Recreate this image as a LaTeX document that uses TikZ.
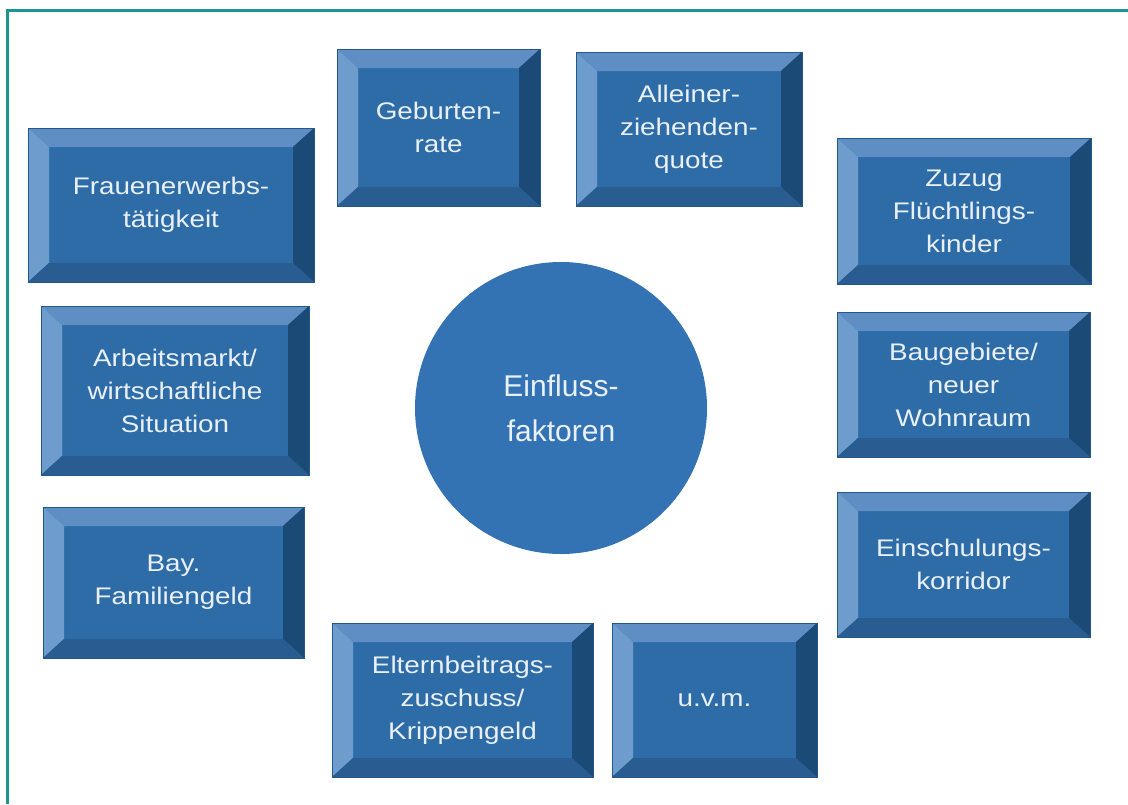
\documentclass[tikz,border=0pt]{standalone}
\usepackage{fontspec}
\usepackage{xcolor}
\newfontfamily\boxfont{Liberation Sans}[FakeStretch=1.16]
\newfontfamily\circfont{Liberation Sans}
\definecolor{faceblue}{HTML}{2E6CA8}
\definecolor{topblue}{HTML}{5E8EC4}
\definecolor{leftblue}{HTML}{6E9CCC}
\definecolor{rightblue}{HTML}{1B4A77}
\definecolor{bottomblue}{HTML}{295D92}
\definecolor{edgeblue}{HTML}{24578A}
\definecolor{circblue}{HTML}{3373B4}
\definecolor{lighttext}{HTML}{EAF0F7}
\definecolor{frameteal}{HTML}{1C9494}
\tikzset{
  bevelbox/.style={rectangle,fill=faceblue,draw=edgeblue,line width=0.8pt,
    text=lighttext,align=center,inner sep=0pt,
    font=\boxfont\fontsize{24}{33}\selectfont,
    path picture={
      \fill[topblue] (path picture bounding box.north west) -- (path picture bounding box.north east)
        -- ([xshift=-21pt,yshift=-19pt]path picture bounding box.north east)
        -- ([xshift=21pt,yshift=-19pt]path picture bounding box.north west) -- cycle;
      \fill[leftblue] (path picture bounding box.north west) -- (path picture bounding box.south west)
        -- ([xshift=21pt,yshift=19pt]path picture bounding box.south west)
        -- ([xshift=21pt,yshift=-19pt]path picture bounding box.north west) -- cycle;
      \fill[rightblue] (path picture bounding box.north east) -- (path picture bounding box.south east)
        -- ([xshift=-21pt,yshift=19pt]path picture bounding box.south east)
        -- ([xshift=-21pt,yshift=-19pt]path picture bounding box.north east) -- cycle;
      \fill[bottomblue] (path picture bounding box.south west) -- (path picture bounding box.south east)
        -- ([xshift=-21pt,yshift=19pt]path picture bounding box.south east)
        -- ([xshift=21pt,yshift=19pt]path picture bounding box.south west) -- cycle;
    }},
  hubcircle/.style={circle,fill=circblue,minimum size=292pt,inner sep=0pt,
    text=lighttext,align=center,font=\circfont\fontsize{30}{45}\selectfont},
  frame/.style={frameteal,line width=3pt}
}
\begin{document}
\begin{tikzpicture}[x=1pt,y=-1pt]
\useasboundingbox (0,0) rectangle (1128,804);
\coordinate (frameTR) at (1128,10);
\coordinate (frameTL) at (7,10);
\coordinate (frameBL) at (7,804);
\draw[frame] (frameTR) -- (frameTL) -- (frameBL);
\node[hubcircle] (hub) at (561,408) {Einfluss-\\faktoren};
  \foreach \nm/\cx/\cy/\bw/\bh/\txt in {
    frauen/171/205/286/154/{Frauenerwerbs-\\tätigkeit},
    geburten/438.5/127.5/203/157/{Geburten-\\rate},
    allein/689/129/226/154/{Alleiner-\\ziehenden-\\quote},
    zuzug/964/211/254/146/{Zuzug\\Flüchtlings-\\kinder},
    bau/963.5/384.5/253/145/{Baugebiete/\\neuer\\Wohnraum},
    einschul/963.5/564.5/253/145/{Einschulungs-\\korridor},
    uvm/714.5/700/205/154/{u.v.m.},
    eltern/462.5/700/261/154/{Elternbeitrags-\\zuschuss/\\Krippengeld},
    bay/173.5/582.5/261/151/{Bay.\\Familiengeld},
    arbeit/175/390.5/268/169/{Arbeitsmarkt/\\wirtschaftliche\\Situation}}
  {\node[bevelbox,minimum width=\bw,minimum height=\bh] (\nm) at (\cx,\cy) {\txt};}
\end{tikzpicture}
\end{document}
